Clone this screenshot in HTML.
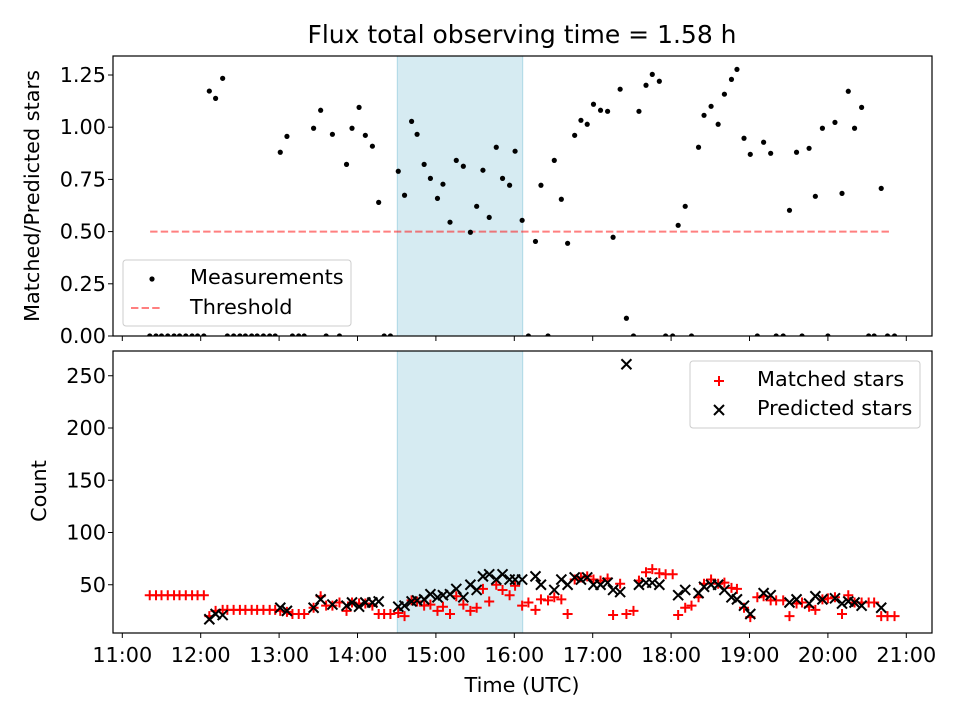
<!DOCTYPE html>
<html><head><meta charset="utf-8">
<style>
html,body{margin:0;padding:0;background:#fff;}
svg text{font-family:"DejaVu Sans","Liberation Sans",sans-serif;fill:#000;}
</style></head>
<body>
<svg id="fig" width="960" height="720" xmlns="http://www.w3.org/2000/svg"></svg>
<script>
const times = [11.35,11.43,11.50,11.58,11.66,11.73,11.81,11.89,11.96,12.04,
12.11,12.19,12.28,12.34,12.42,12.50,12.57,12.65,12.72,12.80,12.88,12.95,
13.015,13.10,13.17,13.25,13.32,13.44,13.53,13.60,13.68,13.77,13.86,13.93,14.02,14.10,14.19,14.27,14.34,14.42,
14.52,14.60,14.69,14.76,14.85,14.93,15.02,15.09,15.18,15.26,15.35,15.44,15.52,15.60,15.68,15.77,15.85,15.94,16.01,16.10,
16.18,16.27,16.34,16.43,16.51,16.60,16.68,16.77,16.85,16.93,17.01,17.10,17.19,17.26,17.35,17.43,17.52,17.59,17.68,17.76,17.85,
17.93,18.02,18.09,18.18,18.26,18.35,18.42,18.51,18.60,18.68,18.77,18.84,18.93,19.01,19.10,19.18,19.27,19.34,19.43,19.51,19.60,
19.67,19.76,19.84,19.93,20.00,20.09,20.18,20.26,20.34,20.43,20.52,20.59,20.68,20.76,20.85];
const ratios = [0,0,0,0,0,0,0,0,0,0,
1.173,1.138,1.234,0,0,0,0,0,0,0,0,0,
0.880,0.956,0,0,0,0.995,1.081,0,0.966,0,0.822,0.995,1.095,0.961,0.909,0.640,0,0,
0.789,0.674,1.028,0.966,0.822,0.755,0.659,0.727,0.545,0.841,0.813,0.497,0.621,0.794,0.568,0.904,0.755,0.722,0.885,0.554,
0,0.453,0.722,0,0.841,0.655,0.444,0.961,1.033,1.014,1.110,1.081,1.076,0.473,1.182,0.085,0,1.076,1.201,1.253,1.220,
0,0,0.530,0.621,0,0.904,1.057,1.100,1.014,1.158,1.229,1.277,0.947,0.870,0,0.928,0.875,0,0,0.602,0.880,
0,0.899,0.669,0.995,0,1.023,0.683,1.172,0.995,1.095,0,0,0.707,0,0];
const matched = [40,40,40,40,40,40,40,40,40,40,
20,25,26,26,26,26,26,26,26,26,26,26,
25,24,22,22,22,28,39,30,30,33,25,33,32,32,30,22,22,22,
23,20,35,34,30,31,25,29,22,39,31,25,28,46,34,50,45,40,49,30,
33,26,36,35,38,36,22,55,57,58,55,54,56,21,51,22,25,54,62,65,61,
60,60,21,28,30,38,51,55,51,52,47,46,28,19,38,39,35,35,35,20,32,
33,29,26,36,37,38,22,40,33,33,33,33,20,20,20];
const predicted = [0,0,0,0,0,0,0,0,0,0,
17,22,21,0,0,0,0,0,0,0,0,0,
28,25,0,0,0,28,36,0,31,0,30,33,29,33,33,34,0,0,
29,30,34,35,36,41,38,40,41,46,38,50,45,58,60,55,60,55,55,55,
0,58,50,0,45,55,50,57,55,57,50,50,52,45,43,261,0,50,52,52,50,
0,0,40,45,0,42,48,50,50,45,38,36,30,22,0,42,40,0,0,33,36,
0,32,39,36,0,37,32,34,33,30,0,0,28,0,0];
const threshold = [0.5];
const thrRange = [11.355, 20.80];
const shade = [14.508, 16.107];
const xTicks = [11,12,13,14,15,16,17,18,19,20,21];
const topTicks = [0,0.25,0.5,0.75,1.0,1.25];
const botTicks = [50,100,150,200,250];

const NS="http://www.w3.org/2000/svg";
const svg=document.getElementById('fig');
function el(tag,attrs,parent){const e=document.createElementNS(NS,tag);for(const k in attrs)e.setAttribute(k,attrs[k]);(parent||svg).appendChild(e);return e;}
const L=113,R=932,T1=56,B1=336,T2=351,B2=633;
const FS='20.8';
const X=t=>122.3+(t-11)*78.4;
const Y1=v=>336-v*208.8;
const Y2=v=>637-v*1.045;

let t=el('text',{x:522,y:43,'text-anchor':'middle','font-size':'25'});t.textContent='Flux total observing time = 1.58 h';



const defs=el('defs',{});
let cp=el('clipPath',{id:'c1'},defs);el('rect',{x:L,y:T1,width:R-L,height:B1-T1},cp);
cp=el('clipPath',{id:'c2'},defs);el('rect',{x:L,y:T2,width:R-L,height:B2-T2},cp);

[[T1,B1,'top'],[T2,B2,'bottom']].forEach(([a,b,n])=>{
  const r=el('rect',{x:X(shade[0]),y:a,width:X(shade[1])-X(shade[0]),height:b-a,fill:'#add8e6','fill-opacity':'0.5',stroke:'#add8e6','stroke-width':'1'});
  
  
});

const g1=el('g',{'clip-path':'url(#c1)'});


const th=el('line',{x1:X(thrRange[0]),x2:X(thrRange[1]),y1:Y1(threshold[0]),y2:Y1(threshold[0]),stroke:'#ff0000','stroke-opacity':'0.5','stroke-width':'2','stroke-dasharray':'7.4,3.2'},g1);


times.forEach((tt,i)=>{
  const c=el('circle',{cx:X(tt),cy:Y1(ratios[i]),r:2.6,fill:'#000'},g1);
  
  
});

const g2=el('g',{'clip-path':'url(#c2)'});


times.forEach((tt,i)=>{
  const x=X(tt),y=Y2(matched[i]);
  const p=el('path',{d:`M${x-5},${y}H${x+5}M${x},${y-5}V${y+5}`,stroke:'#ff0000','stroke-width':'2',fill:'none'},g2);
  
  
});
times.forEach((tt,i)=>{
  if(!(predicted[i]>0))return;
  const x=X(tt),y=Y2(predicted[i]);
  const p=el('path',{d:`M${x-5},${y-5}L${x+5},${y+5}M${x-5},${y+5}L${x+5},${y-5}`,stroke:'#000','stroke-width':'2',fill:'none'},g2);
  
  
});

[[T1,B1,'top'],[T2,B2,'bottom']].forEach(([a,b,n])=>{
  const f=el('rect',{x:L,y:a,width:R-L,height:b-a,fill:'none',stroke:'#000','stroke-width':'1.2'});
  
  
  xTicks.forEach(v=>{const x=X(v);el('line',{x1:x,x2:x,y1:b,y2:b+5,stroke:'#000','stroke-width':'1'});});
});
xTicks.forEach(v=>{
  const tx=el('text',{x:X(v),y:662,'text-anchor':'middle','font-size':FS});
  tx.textContent=(v<10?'0':'')+v+':00';
  
  
});
topTicks.forEach(v=>{
  const y=Y1(v);el('line',{x1:L-5,x2:L,y1:y,y2:y,stroke:'#000'});
  const tx=el('text',{x:106,y:y+7,'text-anchor':'end','font-size':FS});tx.textContent=v.toFixed(2);
  
  
});
botTicks.forEach(v=>{
  const y=Y2(v);el('line',{x1:L-5,x2:L,y1:y,y2:y,stroke:'#000'});
  const tx=el('text',{x:106,y:y+7,'text-anchor':'end','font-size':FS});tx.textContent=v;
  
  
});
t=el('text',{x:0,y:0,'text-anchor':'middle','font-size':FS,transform:'translate(39,196) rotate(-90)'});t.textContent='Matched/Predicted stars';


t=el('text',{x:0,y:0,'text-anchor':'middle','font-size':FS,transform:'translate(46,491) rotate(-90)'});t.textContent='Count';


t=el('text',{x:522,y:692,'text-anchor':'middle','font-size':FS});t.textContent='Time (UTC)';



let lg=el('g',{});


el('rect',{x:123,y:260,width:228,height:66,rx:3,fill:'#fff','fill-opacity':'0.8',stroke:'#ccc','stroke-width':'1'},lg);
el('circle',{cx:152,cy:279,r:2.6,fill:'#000'},lg);
el('line',{x1:131,x2:160,y1:308,y2:308,stroke:'#ff0000','stroke-opacity':'0.5','stroke-width':'2','stroke-dasharray':'7.4,3.2'},lg);
t=el('text',{x:190,y:284,'font-size':FS},lg);t.textContent='Measurements';


t=el('text',{x:190,y:314,'font-size':FS},lg);t.textContent='Threshold';



lg=el('g',{});


el('rect',{x:690,y:361,width:230,height:67,rx:3,fill:'#fff','fill-opacity':'0.8',stroke:'#ccc','stroke-width':'1'},lg);
el('path',{d:'M714,381H724M719,376V386',stroke:'#ff0000','stroke-width':'2'},lg);
el('path',{d:'M714,405L724,415M714,415L724,405',stroke:'#000','stroke-width':'2'},lg);
t=el('text',{x:757,y:386,'font-size':FS},lg);t.textContent='Matched stars';


t=el('text',{x:757,y:415,'font-size':FS},lg);t.textContent='Predicted stars';


</script>
</body></html>
